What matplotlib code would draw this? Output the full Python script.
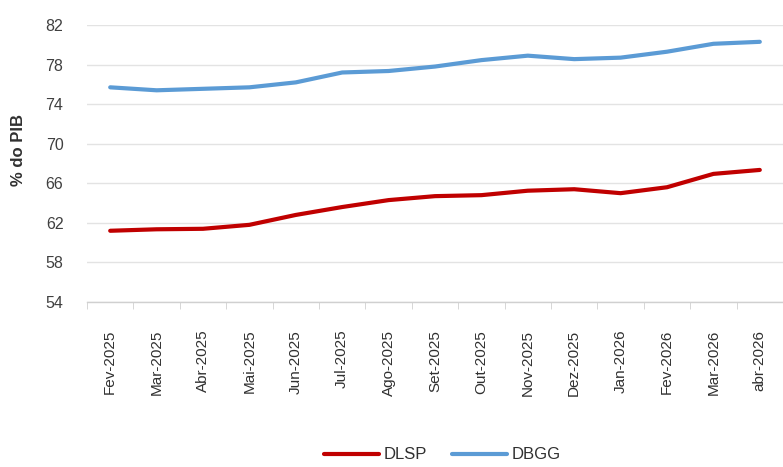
import matplotlib
matplotlib.use("Agg")
import matplotlib.pyplot as plt
import numpy as np

plt.rcParams['font.family'] = ['Liberation Sans', 'DejaVu Sans']

months = ["Fev-2025", "Mar-2025", "Abr-2025", "Mai-2025", "Jun-2025", "Jul-2025",
          "Ago-2025", "Set-2025", "Out-2025", "Nov-2025", "Dez-2025", "Jan-2026",
          "Fev-2026", "Mar-2026", "abr-2026"]
dlsp = [61.2, 61.35, 61.4, 61.8, 62.8, 63.6, 64.3, 64.7, 64.8, 65.25, 65.4, 65.0, 65.6, 66.95, 67.35]
dbgg = [75.7, 75.4, 75.55, 75.7, 76.2, 77.2, 77.35, 77.8, 78.45, 78.9, 78.55, 78.7, 79.3, 80.1, 80.3]
y_ticks = [54, 58, 62, 66, 70, 74, 78, 82]

fig = plt.figure(figsize=(7.83, 4.67), dpi=100)
ax = fig.add_axes([87 / 783, 1 - 302 / 467, 696 / 783, 277 / 467])

x = np.arange(len(months))
ax.plot(x, dlsp, color="#C00000", lw=3, label="DLSP", solid_capstyle="round")
ax.plot(x, dbgg, color="#5B9BD5", lw=3, label="DBGG", solid_capstyle="round")

ax.set_ylim(54, 82)
ax.set_xlim(-0.5, 14.34)
ax.set_yticks(y_ticks)
ax.yaxis.grid(True, color="#e3e3e3", lw=1)
ax.set_axisbelow(True)

for s in ["top", "right", "left"]:
    ax.spines[s].set_visible(False)
ax.spines["bottom"].set_color("#d0d0d0")
ax.spines["bottom"].set_linewidth(1)

ax.set_xticks(x)
ax.set_xticklabels(months, rotation=90, fontsize=11, color="#303030")
ax.tick_params(axis="x", length=0, pad=20)
ax.set_xticks(np.arange(-0.5, 14.6, 1), minor=True)
ax.tick_params(axis="x", which="minor", length=5, color="#d0d0d0")
ax.tick_params(axis="y", length=0, labelsize=11.5, labelcolor="#404040", pad=17)

ax.set_ylabel("% do PIB", fontsize=12, fontweight="bold", color="#303030", labelpad=6)
ax.yaxis.set_label_coords(-0.088, 0.55)

fig.legend(loc="center", bbox_to_anchor=(0.565, 0.026), ncol=2, frameon=False,
           fontsize=12, handlelength=3.3, columnspacing=1.5, handletextpad=0.3,
           labelcolor="#303030")

fig.savefig("out.png", dpi=100)
